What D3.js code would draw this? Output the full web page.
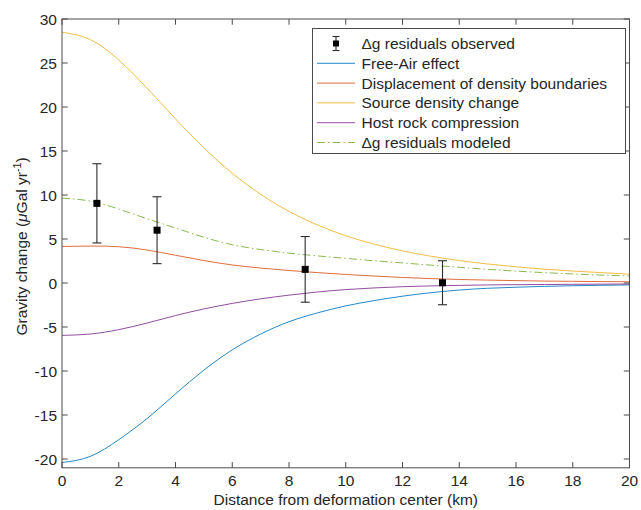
<!DOCTYPE html>
<html>
<head>
<meta charset="utf-8">
<script src="https://cdn.jsdelivr.net/npm/d3@7"></script>
<style>
  html, body { margin: 0; padding: 0; background: #fff; }
  svg { display: block; font-family: "Liberation Sans", Arial, Helvetica, sans-serif; }
</style>
</head>
<body>
<svg id="chart" width="641" height="510"></svg>
<script>
// Distance from deformation center (km), sampled every 1 km
const distance = [0,1,2,3,4,5,6,7,8,9,10,11,12,13,14,15,16,17,18,19,20];

// Modeled gravity-change components (µGal/yr)
const freeAir      = [-20.4,-19.7,-17.8,-15.4,-12.6,-9.9,-7.6,-5.8,-4.4,-3.4,-2.6,-2.0,-1.5,-1.1,-0.8,-0.6,-0.48,-0.38,-0.31,-0.26,-0.22];
const displacement = [4.15,4.2,4.12,3.75,3.15,2.55,2.05,1.7,1.42,1.18,0.97,0.79,0.63,0.5,0.4,0.33,0.27,0.22,0.19,0.16,0.14];
const sourceDensity= [28.5,27.65,25.34,22.13,18.65,15.36,12.47,10.08,8.14,6.6,5.37,4.41,3.65,3.04,2.55,2.16,1.84,1.57,1.36,1.18,1.0];
const hostRock     = [-5.95,-5.8,-5.3,-4.55,-3.7,-2.95,-2.32,-1.8,-1.38,-1.02,-0.75,-0.56,-0.42,-0.33,-0.27,-0.22,-0.19,-0.17,-0.15,-0.13,-0.12];
const modeled      = [9.65,9.3,8.4,7.3,6.25,5.2,4.35,3.8,3.4,3.08,2.8,2.53,2.28,2.03,1.78,1.55,1.35,1.18,1.03,0.9,0.8];

// Observed residuals with one-sigma errors
const obsDistance = [1.23, 3.35, 8.57, 13.41];
const obsValue    = [9.05, 6.0, 1.55, 0.03];
const obsError    = [4.5, 3.8, 3.73, 2.5];

// Axis ticks
const xTicks = [0,2,4,6,8,10,12,14,16,18,20];
const yTicks = [-20,-15,-10,-5,0,5,10,15,20,25,30];

const series = [
  { name: "Free-Air effect",                    values: freeAir,       color: "#0072BD", dash: null },
  { name: "Displacement of density boundaries", values: displacement,  color: "#D95319", dash: null },
  { name: "Source density change",              values: sourceDensity, color: "#EDB120", dash: null },
  { name: "Host rock compression",              values: hostRock,      color: "#7E2F8E", dash: null },
  { name: "\u0394g residuals modeled",          values: modeled,       color: "#77AC30", dash: "8,3,1.5,3" }
];

const svg = d3.select("#chart");
const plotL = 62, plotR = 629.5, plotT = 19, plotB = 467.8;
const axisColor = "#4a4a4a";
const textColor = "#262626";
const fontSize = 15.5;
const lineW = 1;

const x = d3.scaleLinear().domain([0, 20]).range([plotL, plotR]);
const y = d3.scaleLinear().domain([-21, 30]).range([plotB, plotT]);

const plot = svg.append("g");

// Smooth curves through the sampled values
const line = d3.line()
  .x((d, i) => x(distance[i]))
  .y(d => y(d))
  .curve(d3.curveNatural);

series.forEach(s => {
  plot.append("path")
    .attr("d", line(s.values))
    .attr("fill", "none")
    .attr("stroke", s.color)
    .attr("stroke-opacity", 0.85)
    .attr("stroke-width", lineW)
    .attr("stroke-dasharray", s.dash);
});

// Observed points with error bars
const capHalf = 4.5;
obsDistance.forEach((dx, i) => {
  const cx = x(dx), v = obsValue[i], e = obsError[i];
  const g = plot.append("g").attr("stroke", "#2a2a2a").attr("stroke-width", 1.1);
  g.append("line").attr("x1", cx).attr("x2", cx).attr("y1", y(v - e)).attr("y2", y(v + e));
  g.append("line").attr("x1", cx - capHalf).attr("x2", cx + capHalf).attr("y1", y(v + e)).attr("y2", y(v + e));
  g.append("line").attr("x1", cx - capHalf).attr("x2", cx + capHalf).attr("y1", y(v - e)).attr("y2", y(v - e));
  plot.append("rect")
    .attr("x", cx - 3.5).attr("y", y(v) - 3.5)
    .attr("width", 7).attr("height", 7)
    .attr("fill", "#000");
});

// Axes with inward ticks on all four sides
const tickLen = 5.7;
const axisG = svg.append("g").attr("stroke", axisColor).attr("stroke-width", 1);
axisG.append("rect")
  .attr("x", plotL).attr("y", plotT)
  .attr("width", plotR - plotL).attr("height", plotB - plotT)
  .attr("fill", "none");

xTicks.forEach(t => {
  axisG.append("line").attr("x1", x(t)).attr("x2", x(t)).attr("y1", plotB).attr("y2", plotB - tickLen);
  axisG.append("line").attr("x1", x(t)).attr("x2", x(t)).attr("y1", plotT).attr("y2", plotT + tickLen);
});
yTicks.forEach(t => {
  axisG.append("line").attr("x1", plotL).attr("x2", plotL + tickLen).attr("y1", y(t)).attr("y2", y(t));
  axisG.append("line").attr("x1", plotR).attr("x2", plotR - tickLen).attr("y1", y(t)).attr("y2", y(t));
});

const labels = svg.append("g").attr("fill", textColor).attr("font-size", fontSize);
xTicks.forEach(t => {
  labels.append("text")
    .attr("x", x(t)).attr("y", plotB + 18.5)
    .attr("text-anchor", "middle")
    .text(t);
});
yTicks.forEach(t => {
  labels.append("text")
    .attr("x", plotL - 5).attr("y", y(t) + 5.5)
    .attr("text-anchor", "end")
    .text(t);
});

// Axis titles
labels.append("text")
  .attr("x", (plotL + plotR) / 2).attr("y", 504.5)
  .attr("text-anchor", "middle")
  .text("Distance from deformation center (km)");

const yTitle = labels.append("text")
  .attr("transform", `translate(26.5,${(plotT + plotB) / 2 + 3}) rotate(-90)`)
  .attr("text-anchor", "middle");
yTitle.append("tspan").text("Gravity change (");
yTitle.append("tspan").attr("font-style", "italic").text("\u03BC");
yTitle.append("tspan").text("Gal yr");
yTitle.append("tspan").attr("dy", -6).attr("font-size", fontSize * 0.7).text("-1");
yTitle.append("tspan").attr("dy", 6).text(")");

// Legend
const lg = svg.append("g");
const lx = 312.5, ly = 28.5, lw = 313, lh = 125;
lg.append("rect")
  .attr("x", lx).attr("y", ly).attr("width", lw).attr("height", lh)
  .attr("fill", "#fff").attr("stroke", axisColor).attr("stroke-width", 1);

const rowY = i => 43.5 + i * 19.8;
const sampleX1 = 317, sampleX2 = 355, textX = 361.5;

// Observed entry: small error bar with square marker
{
  const cy = rowY(0), cx = (sampleX1 + sampleX2) / 2;
  const g = lg.append("g").attr("stroke", "#2a2a2a").attr("stroke-width", 1.1);
  g.append("line").attr("x1", cx).attr("x2", cx).attr("y1", cy - 7).attr("y2", cy + 7);
  g.append("line").attr("x1", cx - 3.5).attr("x2", cx + 3.5).attr("y1", cy - 7).attr("y2", cy - 7);
  g.append("line").attr("x1", cx - 3.5).attr("x2", cx + 3.5).attr("y1", cy + 7).attr("y2", cy + 7);
  lg.append("rect").attr("x", cx - 3).attr("y", cy - 3).attr("width", 6).attr("height", 6).attr("fill", "#000");
  lg.append("text").attr("x", textX).attr("y", cy + 5.5)
    .attr("fill", textColor).attr("font-size", fontSize)
    .text("\u0394g residuals observed");
}

series.forEach((s, i) => {
  const cy = rowY(i + 1);
  lg.append("line")
    .attr("x1", sampleX1).attr("x2", sampleX2).attr("y1", cy).attr("y2", cy)
    .attr("stroke", s.color).attr("stroke-opacity", 0.85).attr("stroke-width", lineW)
    .attr("stroke-dasharray", s.dash);
  lg.append("text").attr("x", textX).attr("y", cy + 5.5)
    .attr("fill", textColor).attr("font-size", fontSize)
    .text(s.name);
});
</script>
</body>
</html>
